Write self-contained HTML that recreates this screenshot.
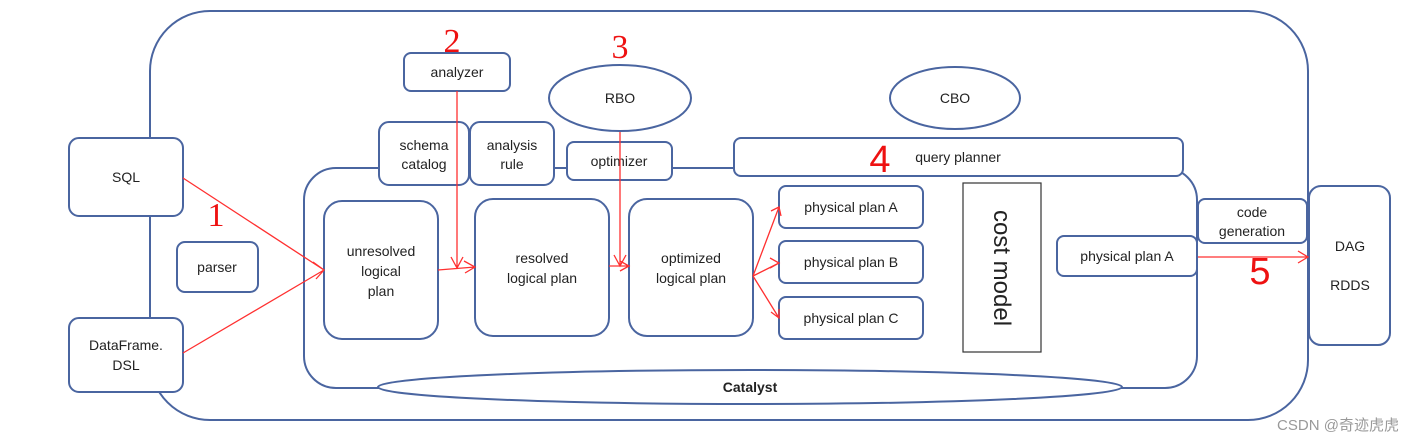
<!DOCTYPE html>
<html><head><meta charset="utf-8"><style>
html,body{margin:0;padding:0;background:#fff;}
svg{display:block;}
text{font-family:"Liberation Sans","Noto Sans CJK SC",sans-serif;fill:#222;font-size:14px;}
.b{fill:#fff;stroke:#4a65a0;stroke-width:2;}
.r{stroke:#ff3030;stroke-width:1.3;fill:none;}
.n{fill:#ee1111;font-family:"Liberation Serif",serif;font-size:34px;}
</style></head><body>
<svg width="1428" height="443" viewBox="0 0 1428 443" xmlns="http://www.w3.org/2000/svg">
<rect class="b" x="150" y="11" width="1158" height="409" rx="60"/>
<rect class="b" x="304" y="168" width="893" height="220" rx="32"/>
<ellipse class="b" cx="750" cy="387" rx="372" ry="17"/>
<text x="750" y="392" text-anchor="middle" font-weight="bold">Catalyst</text>

<rect class="b" x="69" y="138" width="114" height="78" rx="10"/>
<text x="126" y="182" text-anchor="middle">SQL</text>
<rect class="b" x="69" y="318" width="114" height="74" rx="10"/>
<text x="126" y="350" text-anchor="middle">DataFrame.</text>
<text x="126" y="370" text-anchor="middle">DSL</text>
<rect class="b" x="177" y="242" width="81" height="50" rx="8"/>
<text x="217" y="272" text-anchor="middle">parser</text>

<rect class="b" x="404" y="53" width="106" height="38" rx="7"/>
<text x="457" y="77" text-anchor="middle">analyzer</text>
<ellipse class="b" cx="620" cy="98" rx="71" ry="33"/>
<text x="620" y="103" text-anchor="middle">RBO</text>
<ellipse class="b" cx="955" cy="98" rx="65" ry="31"/>
<text x="955" y="103" text-anchor="middle">CBO</text>

<rect class="b" x="379" y="122" width="90" height="63" rx="10"/>
<text x="424" y="150" text-anchor="middle">schema</text>
<text x="424" y="169" text-anchor="middle">catalog</text>
<rect class="b" x="470" y="122" width="84" height="63" rx="10"/>
<text x="512" y="150" text-anchor="middle">analysis</text>
<text x="512" y="169" text-anchor="middle">rule</text>
<rect class="b" x="567" y="142" width="105" height="38" rx="7"/>
<text x="619" y="166" text-anchor="middle">optimizer</text>
<rect class="b" x="734" y="138" width="449" height="38" rx="7"/>
<text x="958" y="162" text-anchor="middle">query planner</text>

<rect class="b" x="324" y="201" width="114" height="138" rx="18"/>
<text x="381" y="256" text-anchor="middle">unresolved</text>
<text x="381" y="276" text-anchor="middle">logical</text>
<text x="381" y="296" text-anchor="middle">plan</text>
<rect class="b" x="475" y="199" width="134" height="137" rx="18"/>
<text x="542" y="263" text-anchor="middle">resolved</text>
<text x="542" y="283" text-anchor="middle">logical plan</text>
<rect class="b" x="629" y="199" width="124" height="137" rx="18"/>
<text x="691" y="263" text-anchor="middle">optimized</text>
<text x="691" y="283" text-anchor="middle">logical plan</text>

<rect class="b" x="779" y="186" width="144" height="42" rx="7"/>
<text x="851" y="212" text-anchor="middle">physical plan A</text>
<rect class="b" x="779" y="241" width="144" height="42" rx="7"/>
<text x="851" y="267" text-anchor="middle">physical plan B</text>
<rect class="b" x="779" y="297" width="144" height="42" rx="7"/>
<text x="851" y="323" text-anchor="middle">physical plan C</text>

<rect x="963" y="183" width="78" height="169" fill="#fff" stroke="#333" stroke-width="1.2"/>
<text transform="translate(994,268) rotate(90)" text-anchor="middle" style="font-size:24px">cost model</text>

<rect class="b" x="1057" y="236" width="140" height="40" rx="7"/>
<text x="1127" y="261" text-anchor="middle">physical plan A</text>
<rect class="b" x="1198" y="199" width="109" height="44" rx="7"/>
<text x="1252" y="217" text-anchor="middle">code</text>
<text x="1252" y="236" text-anchor="middle">generation</text>
<rect class="b" x="1309" y="186" width="81" height="159" rx="12"/>
<text x="1350" y="251" text-anchor="middle">DAG</text>
<text x="1350" y="290" text-anchor="middle">RDDS</text>

<!-- arrows -->
<path class="r" d="M183 178 L324 270 M183 353 L324 270 M313 262 L324 270 L316 279"/>
<path class="r" d="M457 91 L457 268 M451 257 L457 268 L463 257 M438 270 L475 267 M464 261 L475 267 L465 273"/>
<path class="r" d="M620 132 L620 266 M614 255 L620 266 L626 255 M609 266 L629 266 M620 261 L629 266 L620 271"/>
<path class="r" d="M753 276 L779 207 M753 276 L779 263 M753 276 L779 318 M771 211 L779 207 L781 216 M770 258 L779 263 L770 268 M771 312 L779 318 L779 309"/>
<path class="r" d="M1198 257 L1308 257 M1298 251 L1308 257 L1298 263"/>

<text class="n" x="452" y="52" text-anchor="middle">2</text>
<text class="n" x="620" y="58" text-anchor="middle">3</text>
<text class="n" x="216" y="226" text-anchor="middle">1</text>
<text x="880" y="172" text-anchor="middle" style="font-size:38px;fill:#ee1111">4</text>
<text x="1260" y="284" text-anchor="middle" style="font-size:38px;fill:#ee1111">5</text>
<text x="1338" y="430" text-anchor="middle" style="font-size:15px;fill:#999">CSDN @奇迹虎虎</text>
</svg>
</body></html>
